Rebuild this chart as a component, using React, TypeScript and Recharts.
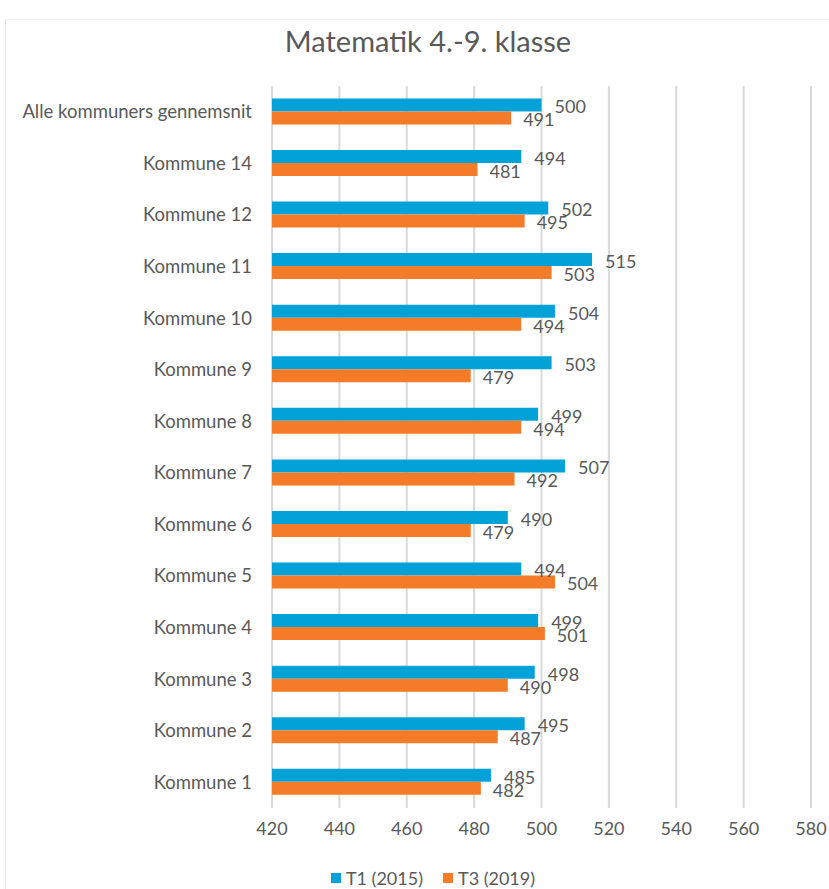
import { BarChart, Bar, XAxis, YAxis, CartesianGrid, LabelList } from 'recharts';

const categories = [
  'Alle kommuners gennemsnit',
  'Kommune 14',
  'Kommune 12',
  'Kommune 11',
  'Kommune 10',
  'Kommune 9',
  'Kommune 8',
  'Kommune 7',
  'Kommune 6',
  'Kommune 5',
  'Kommune 4',
  'Kommune 3',
  'Kommune 2',
  'Kommune 1',
];
const t1Values = [500, 494, 502, 515, 504, 503, 499, 507, 490, 494, 499, 498, 495, 485];
const t3Values = [491, 481, 495, 503, 494, 479, 494, 492, 479, 504, 501, 490, 487, 482];
const xTicks = [420, 440, 460, 480, 500, 520, 540, 560, 580];

const data = categories.map((name, i) => ({ name, t1: t1Values[i], t3: t3Values[i] }));

const FONT = 'Lato, "Open Sans", sans-serif';
const TEXT = '#595959';
const BLUE = '#02a2d9';
const ORANGE = '#f47b27';

const legendItems = [
  { label: 'T1 (2015)', color: BLUE },
  { label: 'T3 (2019)', color: ORANGE },
];

export default function App() {
  return (
    <div style={{ position: 'absolute', left: 0, top: 0, width: 829, height: 889, background: '#fff', overflow: 'hidden' }}>
      <div style={{ position: 'absolute', left: 5, top: 19, width: 900, height: 900, borderLeft: '1px solid #e4e4e4', borderTop: '1px solid #f2f2f2' }} />
      <div
        style={{
          position: 'absolute',
          top: 23,
          left: 0,
          width: 856,
          textAlign: 'center',
          fontFamily: FONT,
          fontSize: 29,
          color: TEXT,
        }}
      >
        Matematik 4.-9. klasse
      </div>
      <BarChart
        width={829}
        height={889}
        data={data}
        layout="vertical"
        margin={{ top: 86, right: 18, bottom: 51, left: 0 }}
        barCategoryGap="24%"
        barGap={0}
        style={{ position: 'absolute', left: 0, top: 0 }}
      >
        <CartesianGrid horizontal={false} stroke="#d9d9d9" strokeWidth={2} />
        <XAxis
          type="number"
          domain={[420, 580]}
          ticks={xTicks}
          axisLine={false}
          tickLine={false}
          tickSize={0}
          tickMargin={14}
          tick={{ fill: TEXT, fontSize: 18, fontFamily: FONT }}
          interval={0}
        />
        <YAxis
          type="category"
          dataKey="name"
          width={272}
          axisLine={false}
          tickLine={false}
          tickSize={0}
          tickMargin={20}
          tick={{ fill: TEXT, fontSize: 18.5, fontFamily: FONT }}
          interval={0}
        />
        <Bar dataKey="t1" name="T1 (2015)" fill={BLUE} isAnimationActive={false}>
          <LabelList dataKey="t1" position="right" offset={13} fill={TEXT} fontSize={18} fontFamily={FONT} dy={2} />
        </Bar>
        <Bar dataKey="t3" name="T3 (2019)" fill={ORANGE} isAnimationActive={false}>
          <LabelList dataKey="t3" position="right" offset={12} fill={TEXT} fontSize={18} fontFamily={FONT} dy={2} />
        </Bar>
      </BarChart>
      <div
        style={{
          position: 'absolute',
          top: 867,
          left: 0,
          width: 866,
          display: 'flex',
          justifyContent: 'center',
          gap: 20,
          fontFamily: FONT,
          fontSize: 18,
          color: TEXT,
        }}
      >
        {legendItems.map((item) => (
          <span key={item.label} style={{ display: 'flex', alignItems: 'center' }}>
            <span style={{ width: 10, height: 10, background: item.color, marginRight: 5, display: 'inline-block' }} />
            {item.label}
          </span>
        ))}
      </div>
    </div>
  );
}
